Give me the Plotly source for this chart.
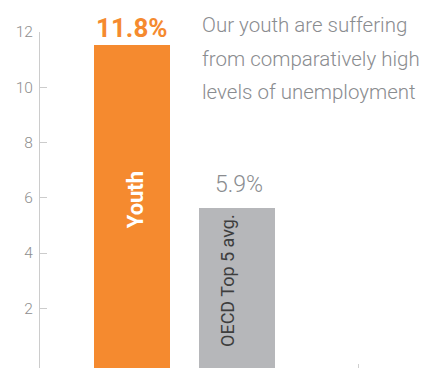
import plotly.graph_objects as go

categories = ["Youth", "OECD Top 5 avg."]
values = [11.8, 5.9]
value_labels = ["11.8%", "5.9%"]
y_ticks = [2, 4, 6, 8, 10, 12]
title_lines = ["Our youth are suffering", "from comparatively high", "levels of unemployment"]

ORANGE = "#F58A2F"
GRAY_BAR = "#B6B7BA"
GRAY_TEXT = "#8A8C8F"
FONT = "Roboto, sans-serif"
BASE = -0.28

xpos = list(range(len(categories)))

fig = go.Figure()
fig.add_trace(go.Bar(
    x=xpos, y=values, base=[BASE] * len(values),
    width=0.72,
    marker=dict(color=[ORANGE, GRAY_BAR], line=dict(width=0)),
    hoverinfo="skip",
))

# value labels above bars
fig.add_annotation(x=xpos[0], y=BASE + values[0], text="<b>" + value_labels[0] + "</b>",
                   showarrow=False, yanchor="bottom", yshift=0,
                   font=dict(family=FONT, size=26, color=ORANGE))
fig.add_annotation(x=xpos[1], y=BASE + values[1], text=value_labels[1],
                   showarrow=False, yanchor="bottom", yshift=8, xshift=2,
                   font=dict(family=FONT, size=23, color=GRAY_TEXT, weight=300))

# category labels inside bars
fig.add_annotation(x=xpos[0], y=5.92, text="<b>" + categories[0] + "</b>",
                   showarrow=False, textangle=-90, xshift=3,
                   font=dict(family=FONT, size=22, color="white"))
fig.add_annotation(x=xpos[1], y=3.0, text=categories[1],
                   showarrow=False, textangle=-90, xshift=-10,
                   font=dict(family=FONT, size=18, color="#3E3E3E"))

# headline, one annotation per line (plot-relative, screen px -> paper)
baselines = [33, 66.5, 100]
for line, bl in zip(title_lines, baselines):
    center_px = bl - 8
    fig.add_annotation(xref="paper", yref="paper", x=(198 - 37) / 390,
                       y=(368 - center_px) / 336,
                       xanchor="left", yanchor="middle", align="left", showarrow=False,
                       text=line,
                       font=dict(family=FONT, size=20.5, color=GRAY_TEXT, weight=300))

fig.update_layout(
    width=427, height=368,
    margin=dict(l=29, r=8, t=24, b=8),
    paper_bgcolor="white", plot_bgcolor="white",
    showlegend=False,
    bargap=0,
    xaxis=dict(range=[-0.879, 2.807], showgrid=False, zeroline=False, showline=False,
               tickmode="array", tickvals=[2.152], ticks="inside", ticklen=4,
               tickcolor="#CFCFCF", tickwidth=1, showticklabels=False),
    yaxis=dict(range=[-0.16, 12], showgrid=False, zeroline=False,
               showline=True, linecolor="#CCCCCC", linewidth=1,
               tickmode="array", tickvals=y_ticks, ticks="inside", ticklen=7,
               tickcolor="#CCCCCC", tickwidth=1, ticklabelstandoff=3,
               tickfont=dict(family=FONT, size=15.5, color="#8E8E8E", weight=300)),
)

fig.write_html("out.html")
